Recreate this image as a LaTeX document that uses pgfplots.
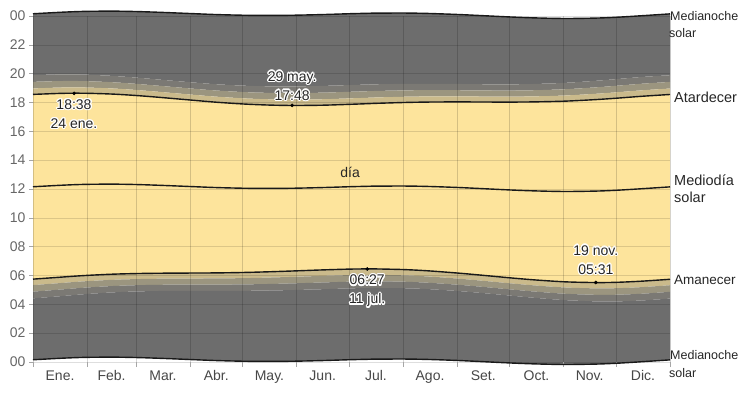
\documentclass[border=0pt]{standalone}
\usepackage{fontspec}
\setmainfont{Liberation Sans}
\usepackage{pgfplots}
\pgfplotsset{compat=1.18}
\usepackage{pgfplotstable}
\usepgfplotslibrary{fillbetween}

\definecolor{night}{HTML}{6D6D6D}
\definecolor{astro}{HTML}{7B7974}
\definecolor{naut}{HTML}{9B957F}
\definecolor{civ}{HTML}{CABA8B}
\definecolor{day}{HTML}{FDE49C}
\definecolor{txt}{HTML}{262626}

\pgfplotstableread{
d rise set noon mtop mbot cdusk ndusk adusk cdawn ndawn adawn
0 5.748 18.562 12.155 24.155 0.155 18.975 19.431 19.898 5.335 4.879 4.412
15 5.877 18.629 12.253 24.253 0.253 19.037 19.487 19.949 5.469 5.019 4.557
24 5.955 18.645 12.300 24.300 0.300 19.048 19.493 19.949 5.552 5.107 4.651
32 6.014 18.636 12.325 24.325 0.325 19.034 19.474 19.924 5.616 5.176 4.726
46 6.093 18.581 12.337 24.337 0.337 18.971 19.402 19.843 5.703 5.272 4.831
60 6.137 18.477 12.307 24.307 0.307 18.861 19.285 19.719 5.753 5.329 4.895
74 6.159 18.341 12.250 24.250 0.250 18.721 19.142 19.572 5.779 5.358 4.928
91 6.171 18.163 12.167 24.167 0.167 18.544 18.965 19.397 5.790 5.369 4.937
105 6.180 18.020 12.100 24.100 0.100 18.405 18.831 19.267 5.795 5.369 4.933
121 6.211 17.893 12.052 24.052 0.052 18.286 18.721 19.166 5.818 5.383 4.938
135 6.257 17.823 12.040 24.040 0.040 18.224 18.668 19.122 5.856 5.412 4.958
149 6.314 17.792 12.053 24.053 0.053 18.201 18.652 19.114 5.905 5.454 4.992
166 6.388 17.812 12.100 24.100 0.100 18.226 18.683 19.151 5.974 5.517 5.049
182 6.445 17.875 12.160 24.160 0.160 18.288 18.745 19.212 6.032 5.575 5.108
192 6.457 17.919 12.188 24.188 0.188 18.329 18.782 19.246 6.047 5.594 5.130
196 6.457 17.939 12.198 24.198 0.198 18.348 18.799 19.261 6.048 5.597 5.135
213 6.409 18.001 12.205 24.205 0.205 18.400 18.842 19.294 6.010 5.568 5.116
227 6.319 18.031 12.175 24.175 0.175 18.423 18.856 19.299 5.927 5.494 5.051
244 6.163 18.041 12.102 24.102 0.102 18.425 18.850 19.285 5.779 5.354 4.919
258 6.011 18.033 12.022 24.022 0.022 18.414 18.835 19.265 5.630 5.209 4.779
274 5.831 18.029 11.930 23.930 -0.070 18.409 18.830 19.260 5.451 5.030 4.600
288 5.690 18.044 11.867 23.867 -0.133 18.428 18.853 19.288 5.306 4.881 4.446
305 5.560 18.094 11.827 23.827 -0.173 18.486 18.920 19.363 5.168 4.734 4.291
323 5.509 18.205 11.857 23.857 -0.143 18.608 19.054 19.510 5.106 4.660 4.204
335 5.530 18.304 11.917 23.917 -0.083 18.713 19.166 19.629 5.121 4.668 4.205
349 5.608 18.432 12.020 24.020 0.020 18.846 19.303 19.771 5.194 4.737 4.269
365 5.738 18.556 12.147 24.147 0.147 18.969 19.426 19.893 5.325 4.868 4.401
}\suntab

\newcommand{\halo}[3]{%
  \foreach \a in {0,30,...,330} {\node[text=white,inner sep=0pt,align=center,#2,shift={(\a:1.2pt)}] at (#1) {#3};}
  \node[text=txt,inner sep=0pt,align=center,#2] at (#1) {#3};}

\begin{document}
\begin{tikzpicture}
\begin{axis}[
  at={(0pt,0pt)}, anchor=south west,
  scale only axis, width=637pt, height=346pt,
  xmin=0, xmax=365, ymin=0, ymax=24, clip=false,
  set layers=standard,
  fill between/on layer=axis background,
  axis line style={draw=none},
  tick pos=left, tick align=outside,
  xtick={15.5,45,74.5,105,135.5,166,196.5,227.5,258,288.5,319,349.5},
  xticklabels={Ene.,Feb.,Mar.,Abr.,May.,Jun.,Jul.,Ago.,Set.,Oct.,Nov.,Dic.},
  minor xtick={0,31,59,90,120,151,181,212,243,273,304,334,365},
  xminorgrids, ymajorgrids,
  every major x tick/.append style={draw=none},
  ytick={0,2,...,24},
  yticklabels={00,02,04,06,08,10,12,14,16,18,20,22,00},
  major tick length=4pt, minor tick length=5pt,
  tick style={black!35, line width=0.6pt},
  grid style={black, opacity=0.13, line width=0.6pt},
  minor grid style={black, opacity=0.16, line width=0.6pt},
  x tick label style={font=\fontsize{14}{16}\selectfont, text=black!72, yshift=-1pt},
  y tick label style={font=\fontsize{14}{16}\selectfont, text=black!60},
]
\addplot[draw=none, name path=mtop, smooth, forget plot] table[x=d,y=mtop]{\suntab};
\addplot[draw=none, name path=mbot, smooth, forget plot] table[x=d,y=mbot]{\suntab};
\addplot[draw=none, name path=adusk, smooth, forget plot] table[x=d,y=adusk]{\suntab};
\addplot[draw=none, name path=ndusk, smooth, forget plot] table[x=d,y=ndusk]{\suntab};
\addplot[draw=none, name path=cdusk, smooth, forget plot] table[x=d,y=cdusk]{\suntab};
\addplot[draw=none, name path=set, smooth, forget plot] table[x=d,y=set]{\suntab};
\addplot[draw=none, name path=rise, smooth, forget plot] table[x=d,y=rise]{\suntab};
\addplot[draw=none, name path=cdawn, smooth, forget plot] table[x=d,y=cdawn]{\suntab};
\addplot[draw=none, name path=ndawn, smooth, forget plot] table[x=d,y=ndawn]{\suntab};
\addplot[draw=none, name path=adawn, smooth, forget plot] table[x=d,y=adawn]{\suntab};

\addplot[fill=night, draw=none] fill between[of=mtop and adusk];
\addplot[fill=astro, draw=none] fill between[of=adusk and ndusk];
\addplot[fill=naut, draw=none] fill between[of=ndusk and cdusk];
\addplot[fill=civ, draw=none] fill between[of=cdusk and set];
\addplot[fill=day, draw=none] fill between[of=set and rise];
\addplot[fill=civ, draw=none] fill between[of=rise and cdawn];
\addplot[fill=naut, draw=none] fill between[of=cdawn and ndawn];
\addplot[fill=astro, draw=none] fill between[of=ndawn and adawn];
\addplot[fill=night, draw=none] fill between[of=adawn and mbot];

\addplot[black!90, line width=1.4pt, smooth] table[x=d,y=mtop]{\suntab};
\addplot[black!90, line width=1.4pt, smooth] table[x=d,y=mbot]{\suntab};
\addplot[black!90, line width=1.4pt, smooth] table[x=d,y=set]{\suntab};
\addplot[black!90, line width=1.4pt, smooth] table[x=d,y=rise]{\suntab};
\addplot[black!90, line width=1.4pt, smooth] table[x=d,y=noon]{\suntab};

\addplot[only marks, mark=*, mark size=1.6pt, black] coordinates {(23.5,18.633) (148.5,17.8) (191.5,6.45) (322.5,5.517)};

\coordinate (pA) at (axis cs:23.5,18.633);
\coordinate (pB) at (axis cs:148.5,17.8);
\coordinate (pC) at (axis cs:191.5,6.45);
\coordinate (pD) at (axis cs:322.5,5.517);
\coordinate (pDia) at (axis cs:181.7,13.18);
\coordinate (rT) at (axis cs:365,24.0);
\coordinate (rT2) at (axis cs:365,22.8);
\coordinate (rS) at (axis cs:365,18.38);
\coordinate (rN) at (axis cs:365,12.62);
\coordinate (rN2) at (axis cs:365,11.44);
\coordinate (rR) at (axis cs:365,5.69);
\coordinate (rB) at (axis cs:365,0.49);
\coordinate (rB2) at (axis cs:365,-0.76);
\end{axis}

\halo{pA}{anchor=north,yshift=-6pt,font=\fontsize{14}{19}\selectfont}{18:38\\24 ene.}
\halo{pB}{anchor=south,yshift=5pt,font=\fontsize{14}{19}\selectfont}{29 may.\\17:48}
\halo{pC}{anchor=north,yshift=-6pt,font=\fontsize{14}{19}\selectfont}{06:27\\11 jul.}
\halo{pD}{anchor=south,yshift=8pt,font=\fontsize{14}{19}\selectfont}{19 nov.\\05:31}
\node[text=txt, font=\fontsize{14}{16}\selectfont] at (pDia) {día};

\node[anchor=west, inner sep=0pt, xshift=0pt, text=txt, font=\fontsize{12.5}{14}\selectfont] at (rT) {Medianoche};
\node[anchor=west, inner sep=0pt, xshift=-1pt, text=txt, font=\fontsize{12.5}{14}\selectfont] at (rT2) {solar};
\node[anchor=west, inner sep=0pt, xshift=4pt, text=txt, font=\fontsize{14.5}{16}\selectfont] at (rS) {Atardecer};
\node[anchor=west, inner sep=0pt, xshift=4pt, text=txt, font=\fontsize{14.5}{16}\selectfont] at (rN) {Mediodía};
\node[anchor=west, inner sep=0pt, xshift=4pt, text=txt, font=\fontsize{14.5}{16}\selectfont] at (rN2) {solar};
\node[anchor=west, inner sep=0pt, xshift=4pt, text=txt, font=\fontsize{13.5}{16}\selectfont] at (rR) {Amanecer};
\node[anchor=west, inner sep=0pt, xshift=0pt, text=txt, font=\fontsize{12.5}{14}\selectfont] at (rB) {Medianoche};
\node[anchor=west, inner sep=0pt, xshift=-1pt, text=txt, font=\fontsize{12.5}{14}\selectfont] at (rB2) {solar};

\pgfresetboundingbox
\useasboundingbox (-33pt,-34pt) rectangle (719pt,362pt);
\end{tikzpicture}
\end{document}
